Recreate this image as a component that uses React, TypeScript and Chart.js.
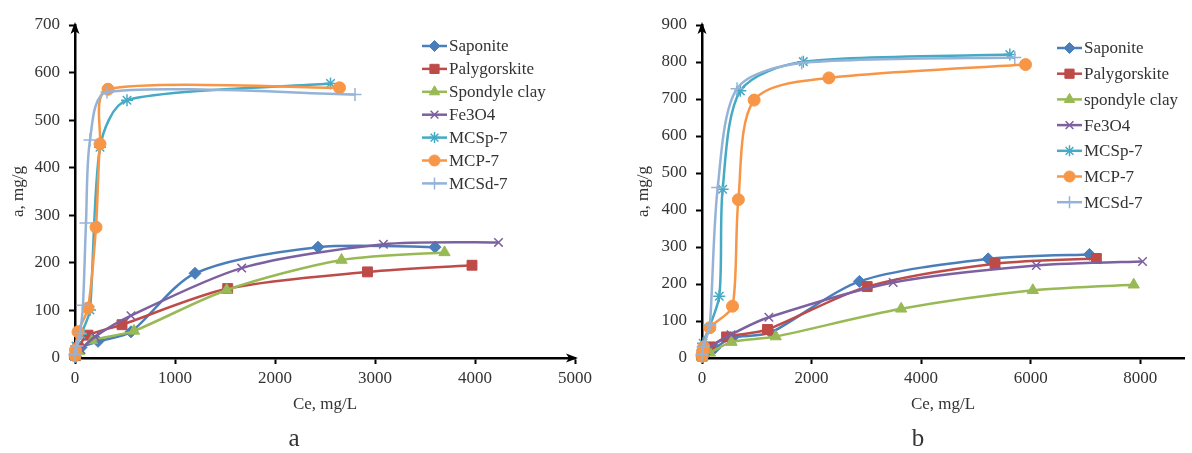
import React, { useEffect, useRef } from 'react';
import { Chart, registerables } from 'chart.js';
import { drawPoint } from 'chart.js/helpers';

Chart.register(...registerables);

// ---------- Data: chart a ----------
const namesA = ['Saponite', 'Palygorskite', 'Spondyle clay', 'Fe3O4', 'MCSp-7', 'MCP-7', 'MCSd-7'];
const aSaponiteCe = [5, 20, 60, 230, 560, 1200, 2430, 3600];
const aSaponiteQ = [3, 12, 22, 35, 55, 178, 233, 233];
const aPalygCe = [5, 30, 130, 470, 1527, 2925, 3970];
const aPalygQ = [5, 22, 48, 70, 146, 181, 195];
const aSpondCe = [5, 40, 170, 590, 1517, 2665, 3695];
const aSpondQ = [3, 14, 37, 57, 143, 206, 222];
const aFeCe = [5, 60, 200, 560, 1667, 3084, 4235];
const aFeQ = [5, 18, 45, 89, 189, 239, 243];
const aMCSpCe = [0, 10, 60, 150, 250, 520, 2555];
const aMCSpQ = [3, 25, 50, 101, 443, 542, 577];
const aMCPCe = [0, 5, 30, 130, 210, 250, 330, 2645];
const aMCPQ = [5, 17, 55, 105, 275, 450, 565, 568];
const aMCSdCe = [0, 20, 50, 80, 110, 150, 320, 2800];
const aMCSdQ = [8, 25, 52, 111, 284, 458, 559, 554];

// ---------- Data: chart b ----------
const namesB = ['Saponite', 'Palygorskite', 'spondyle clay', 'Fe3O4', 'MCSp-7', 'MCP-7', 'MCSd-7'];
const bSaponiteCe = [10, 60, 233, 557, 1257, 2873, 5224, 7074];
const bSaponiteQ = [3, 10, 27, 55, 69, 207, 268, 280];
const bPalygCe = [5, 40, 150, 449, 1195, 3016, 5350, 7200];
const bPalygQ = [5, 20, 30, 57, 77, 193, 255, 269];
const bSpondCe = [5, 144, 539, 1346, 3636, 6040, 7882];
const bSpondQ = [2, 14, 43, 58, 133, 183, 198];
const bFeCe = [5, 60, 530, 1221, 3490, 6104, 8043];
const bFeQ = [5, 20, 63, 110, 204, 250, 261];
const bMCSpCe = [0, 10, 20, 315, 377, 700, 1850, 5620];
const bMCSpQ = [5, 22, 40, 167, 456, 722, 801, 820];
const bMCPCe = [0, 10, 30, 144, 557, 664, 952, 2316, 5907];
const bMCPQ = [5, 17, 30, 82, 140, 428, 697, 757, 793];
const bMCSdCe = [0, 20, 144, 287, 640, 1820, 5710];
const bMCSdQ = [10, 30, 90, 461, 728, 797, 812];

// tick values
const xTicksA = [0, 1000, 2000, 3000, 4000, 5000];
const xTicksB = [0, 2000, 4000, 6000, 8000];

// ---------- Styles ----------
const COLORS = ['#4A7EBB', '#BE4B48', '#98B954', '#7D60A0', '#46AAC5', '#F79646', '#95B3D7'];
const MARKERS = ['rectRot', 'rect', 'triangle', 'crossRot', 'star', 'circle', 'cross'];
const RADII = [6, 7, 6.5, 6, 6, 6, 6.5];
const BORDERS = [1, 1, 1, 1.5, 1.5, 1, 1.5];
const FONT = '"Liberation Serif", "Times New Roman", serif';
const TEXT = '#333';

const zip = (xs: number[], ys: number[]) => xs.map((x, i) => ({ x, y: ys[i] }));

function buildDatasets(names: string[], ces: number[][], qs: number[][]) {
  return names.map((label, i) => ({
    label,
    data: zip(ces[i], qs[i]),
    showLine: true,
    borderColor: COLORS[i],
    backgroundColor: COLORS[i],
    borderWidth: 2.5,
    tension: 0.3,
    pointStyle: MARKERS[i],
    pointRadius: RADII[i],
    pointBorderWidth: BORDERS[i],
    pointBorderColor: COLORS[i],
    pointBackgroundColor: COLORS[i],
    clip: false,
    order: -i,
  }));
}

// Excel-like smoothing: tangent along (next - prev), length |T|/6, capped by a share of the adjacent segment
const K = 0.28;
const excelSmooth = {
  id: 'excelSmooth',
  beforeDatasetsDraw(chart: any) {
    chart.getSortedVisibleDatasetMetas().forEach((meta: any) => {
      const pts = meta.data;
      const n = pts.length;
      for (let i = 0; i < n; i++) {
        const p = pts[i];
        const prev = pts[Math.max(0, i - 1)];
        const next = pts[Math.min(n - 1, i + 1)];
        const tx = next.x - prev.x;
        const ty = next.y - prev.y;
        const tl = Math.hypot(tx, ty) || 1;
        const ux = tx / tl;
        const uy = ty / tl;
        const d0 = Math.hypot(p.x - prev.x, p.y - prev.y);
        const d1 = Math.hypot(next.x - p.x, next.y - p.y);
        const o0 = Math.min(tl / 6, K * d0);
        const o1 = Math.min(tl / 6, K * d1);
        p.cp1x = p.x - ux * o0;
        p.cp1y = p.y - uy * o0;
        p.cp2x = p.x + ux * o1;
        p.cp2y = p.y + uy * o1;
      }
      if (meta.dataset) {
        meta.dataset._pointsUpdated = true;
        meta.dataset._path = undefined;
      }
    });
  },
};

const sideLegend = {
  id: 'sideLegend',
  afterDraw(chart: any, _args: any, opts: any) {
    if (!opts || !opts.labels) return;
    const ctx = chart.ctx;
    ctx.save();
    opts.labels.forEach((label: string, i: number) => {
      const y = opts.y + i * opts.dy;
      ctx.strokeStyle = COLORS[i];
      ctx.lineWidth = 2.5;
      ctx.beginPath();
      ctx.moveTo(opts.x, y);
      ctx.lineTo(opts.x + opts.len, y);
      ctx.stroke();
      ctx.fillStyle = COLORS[i];
      ctx.strokeStyle = COLORS[i];
      ctx.lineWidth = BORDERS[i];
      drawPoint(ctx, { pointStyle: MARKERS[i], radius: RADII[i] - 0.5, borderWidth: BORDERS[i], rotation: 0 } as any, opts.x + opts.len / 2, y);
      ctx.fillStyle = TEXT;
      ctx.font = opts.font;
      ctx.textBaseline = 'middle';
      ctx.textAlign = 'left';
      ctx.fillText(label, opts.x + opts.len + 2, y + 1);
    });
    ctx.restore();
  },
};

const arrows = {
  id: 'arrows',
  afterDraw(chart: any, _args: any, opts: any) {
    const { left, top, right, bottom } = chart.chartArea;
    const ctx = chart.ctx;
    ctx.save();
    ctx.fillStyle = '#000';
    ctx.beginPath();
    ctx.moveTo(left, top - 3);
    ctx.lineTo(left - 4.5, top + 9);
    ctx.lineTo(left, top + 6);
    ctx.lineTo(left + 4.5, top + 9);
    ctx.closePath();
    ctx.fill();
    if (opts && opts.xArrow) {
      ctx.beginPath();
      ctx.moveTo(right + 3, bottom);
      ctx.lineTo(right - 9, bottom - 4.5);
      ctx.lineTo(right - 6, bottom);
      ctx.lineTo(right - 9, bottom + 4.5);
      ctx.closePath();
      ctx.fill();
    }
    ctx.restore();
  },
};

interface Cfg {
  names: string[];
  ces: number[][];
  qs: number[][];
  xMax: number;
  xTicks: number[];
  yMax: number;
  yAxisWidth: number;
  yTitlePad: number;
  padRight: number;
  legendX: number;
  legendY: number;
  legendDy: number;
  xArrow: boolean;
}

function IsothermChart({ cfg, left }: { cfg: Cfg; left: number }) {
  const ref = useRef<HTMLCanvasElement>(null);
  useEffect(() => {
    if (!ref.current) return;
    const axisCommon = {
      border: { display: true, color: '#000', width: 2.5 },
      grid: { display: true, drawOnChartArea: false, drawTicks: true, tickLength: 6, tickColor: '#000', tickWidth: 2 },
    };
    const chart = new Chart(ref.current, {
      type: 'scatter',
      data: { datasets: buildDatasets(cfg.names, cfg.ces, cfg.qs) as any },
      plugins: [excelSmooth, sideLegend, arrows],
      options: {
        animation: false,
        responsive: false,
        maintainAspectRatio: false,
        layout: { padding: { top: 25, right: cfg.padRight, left: 0, bottom: 0 } },
        plugins: {
          legend: { display: false },
          tooltip: { enabled: false },
          sideLegend: {
            labels: cfg.names,
            x: cfg.legendX,
            y: cfg.legendY,
            dy: cfg.legendDy,
            len: 25,
            font: `17px ${FONT}`,
          },
          arrows: { xArrow: cfg.xArrow },
        } as any,
        scales: {
          x: {
            type: 'linear',
            min: 0,
            max: cfg.xMax,
            ...axisCommon,
            afterBuildTicks: (s: any) => {
              s.ticks = cfg.xTicks.map((v) => ({ value: v }));
            },
            ticks: {
              color: TEXT,
              padding: 4,
              maxRotation: 0,
              autoSkip: false,
              font: { family: FONT, size: 17 },
              callback: (v: any) => String(v),
            },
            title: {
              display: true,
              text: 'Ce, mg/L',
              color: TEXT,
              font: { family: FONT, size: 17 },
              padding: { top: 0, bottom: 38 },
            },
            afterFit: (s: any) => {
              s.height = 95;
            },
          },
          y: {
            type: 'linear',
            min: 0,
            max: cfg.yMax,
            ...axisCommon,
            ticks: {
              stepSize: 100,
              color: TEXT,
              padding: 9,
              font: { family: FONT, size: 17 },
              callback: (v: any) => String(v),
            },
            title: {
              display: true,
              text: 'a, mg/g',
              color: TEXT,
              font: { family: FONT, size: 17 },
              padding: { top: cfg.yTitlePad, bottom: 0 },
            },
            afterFit: (s: any) => {
              s.width = cfg.yAxisWidth;
            },
          },
        } as any,
      },
    });
    return () => chart.destroy();
  }, []);
  return (
    <canvas
      ref={ref}
      width={596}
      height={453}
      style={{ position: 'absolute', left, top: 0, width: 596, height: 453 }}
    />
  );
}

const cfgA: Cfg = {
  names: namesA,
  ces: [aSaponiteCe, aPalygCe, aSpondCe, aFeCe, aMCSpCe, aMCPCe, aMCSdCe],
  qs: [aSaponiteQ, aPalygQ, aSpondQ, aFeQ, aMCSpQ, aMCPQ, aMCSdQ],
  xMax: 5000,
  xTicks: xTicksA,
  yMax: 700,
  yAxisWidth: 75,
  yTitlePad: 8,
  padRight: 20,
  legendX: 422,
  legendY: 46,
  legendDy: 22.9,
  xArrow: true,
};

const cfgB: Cfg = {
  names: namesB,
  ces: [bSaponiteCe, bPalygCe, bSpondCe, bFeCe, bMCSpCe, bMCPCe, bMCSdCe],
  qs: [bSaponiteQ, bPalygQ, bSpondQ, bFeQ, bMCSpQ, bMCPQ, bMCSdQ],
  xMax: 8800,
  xTicks: xTicksB,
  yMax: 900,
  yAxisWidth: 106,
  yTitlePad: 37,
  padRight: 0,
  legendX: 461,
  legendY: 48,
  legendDy: 25.7,
  xArrow: false,
};

export default function App() {
  const cap: React.CSSProperties = {
    position: 'absolute',
    top: 423,
    fontFamily: FONT,
    fontSize: 25,
    color: TEXT,
    width: 40,
    textAlign: 'center',
    lineHeight: '30px',
  };
  return (
    <div style={{ position: 'fixed', left: 0, top: 0, width: 1192, height: 453, background: '#fff', overflow: 'hidden' }}>
      <IsothermChart cfg={cfgA} left={0} />
      <IsothermChart cfg={cfgB} left={596} />
      <div style={{ ...cap, left: 294 - 20 }}>a</div>
      <div style={{ ...cap, left: 918 - 20 }}>b</div>
    </div>
  );
}
